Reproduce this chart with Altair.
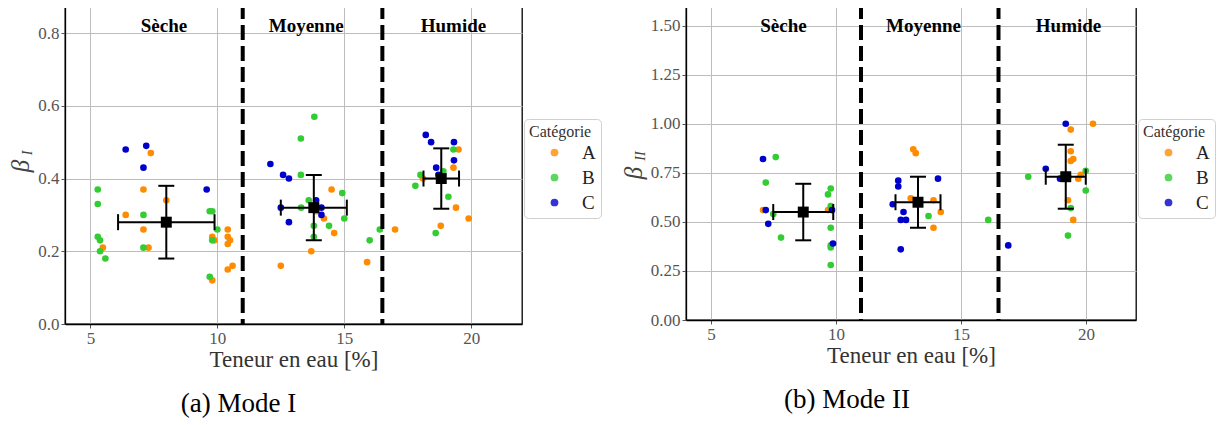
import altair as alt
import pandas as pd

FONT = "'Liberation Serif', 'DejaVu Serif', serif"
CATS = ["A", "B", "C"]
COLORS = ["#ff8c00", "#33cc33", "#0000cd"]

# ---- Panel (a) Mode I ----
a_A_x = [7.38, 7.09, 7.99, 6.39, 7.09, 7.29, 5.49, 9.8, 9.89, 9.8, 10.41, 10.41, 10.5, 10.41, 10.41, 10.6,
         12.5, 13.7, 13.9, 14.2, 14.5, 14.6, 15.9, 17.0, 18.1, 18.8, 19.4, 19.3, 19.5, 19.9]
a_A_y = [0.47, 0.37, 0.34, 0.30, 0.26, 0.21, 0.21, 0.24, 0.23, 0.12, 0.26, 0.24, 0.23, 0.22, 0.15, 0.16,
         0.16, 0.20, 0.31, 0.29, 0.37, 0.25, 0.17, 0.26, 0.40, 0.27, 0.32, 0.43, 0.48, 0.29]
a_B_x = [5.29, 5.29, 5.29, 5.38, 5.38, 5.59, 7.09, 7.09, 9.7, 9.8, 10.0, 9.8, 9.7,
         13.29, 13.82, 13.29, 13.6, 13.3, 13.8, 13.8, 14.4, 14.92, 15.0, 16.0, 16.4, 17.8, 18.0, 18.6, 18.9, 19.1, 19.3]
a_B_y = [0.37, 0.33, 0.24, 0.23, 0.20, 0.18, 0.30, 0.21, 0.31, 0.31, 0.26, 0.23, 0.13,
         0.51, 0.57, 0.41, 0.34, 0.32, 0.27, 0.24, 0.27, 0.36, 0.29, 0.23, 0.26, 0.38, 0.41, 0.25, 0.42, 0.35, 0.48]
a_C_x = [6.39, 7.2, 7.09, 9.58, 12.09, 12.59, 12.82, 12.5, 12.82, 13.89, 14.1, 14.1,
         18.21, 18.42, 19.32, 19.32, 18.62, 18.71]
a_C_y = [0.48, 0.49, 0.43, 0.37, 0.44, 0.41, 0.40, 0.32, 0.28, 0.34, 0.32, 0.30,
         0.52, 0.50, 0.50, 0.45, 0.43, 0.41]
a_mean_x = [7.99, 13.8, 18.82]
a_mean_y = [0.28, 0.32, 0.40]
a_xerr = [1.9, 1.3, 0.7]
a_yerr = [0.10, 0.09, 0.083]

# ---- Panel (b) Mode II ----
b_A_x = [7.08, 9.68, 13.09, 13.19, 12.99, 13.9, 14.19, 13.9, 20.28, 19.39, 19.39, 19.49, 19.39, 19.79, 19.69, 19.28, 19.49]
b_A_y = [0.56, 0.56, 0.87, 0.85, 0.62, 0.61, 0.55, 0.47, 1.00, 0.97, 0.86, 0.82, 0.81, 0.74, 0.72, 0.61, 0.51]
b_B_x = [7.59, 7.19, 7.49, 7.8, 9.79, 9.68, 9.79, 9.79, 9.79, 9.79, 9.79, 13.7, 16.09, 17.69, 19.99, 19.99, 19.39, 19.28, 19.3]
b_B_y = [0.83, 0.70, 0.54, 0.42, 0.67, 0.64, 0.58, 0.47, 0.38, 0.37, 0.28, 0.53, 0.51, 0.73, 0.76, 0.66, 0.57, 0.43, 0.73]
b_C_x = [7.08, 7.19, 7.29, 9.88, 9.84, 12.49, 12.49, 14.08, 12.27, 12.7, 12.59, 12.8, 12.59, 19.19, 18.39, 18.96, 16.89]
b_C_y = [0.82, 0.56, 0.49, 0.39, 0.56, 0.71, 0.68, 0.72, 0.59, 0.55, 0.51, 0.51, 0.36, 1.00, 0.77, 0.72, 0.38]
b_mean_x = [8.69, 13.28, 19.19]
b_mean_y = [0.55, 0.60, 0.73]
b_xerr = [1.2, 0.9, 0.8]
b_yerr = [0.144, 0.13, 0.163]

zone_bounds = [11.0, 16.5]
zone_names = ["Sèche", "Moyenne", "Humide"]
zone_x = [7.9, 13.5, 19.3]
x_ticks = [5, 10, 15, 20]
a_y_ticks = [0.0, 0.2, 0.4, 0.6, 0.8]
b_y_ticks = [0.0, 0.25, 0.5, 0.75, 1.0, 1.25, 1.5]


def points_df(ax, ay, bx, by, cx, cy):
    return pd.concat([
        pd.DataFrame({"x": ax, "y": ay, "cat": "A"}),
        pd.DataFrame({"x": bx, "y": by, "cat": "B"}),
        pd.DataFrame({"x": cx, "y": cy, "cat": "C"}),
    ], ignore_index=True)


def panel(pts, mx, my, xe, ye, ydom, yvals, yfmt, w, h, zone_y, beta, title, dx):
    xs = alt.Scale(domain=[4, 22], nice=False, zero=False)
    ys = alt.Scale(domain=ydom, nice=False)
    xax = alt.Axis(values=x_ticks, title="Teneur en eau [%]", format="d")
    yax = alt.Axis(values=yvals, format=yfmt, title=None)

    pl = alt.Chart(pts).mark_circle(size=44, opacity=1).encode(
        x=alt.X("x:Q", scale=xs, axis=xax),
        y=alt.Y("y:Q", scale=ys, axis=yax),
        color=alt.Color("cat:N", scale=alt.Scale(domain=CATS, range=COLORS),
                        legend=alt.Legend(title="Catégorie", orient="none", legendX=w + 2, legendY=115,
                                          strokeColor="#d0d0d0", fillColor="white", cornerRadius=4,
                                          padding=5, symbolType="circle", symbolSize=60,
                                          symbolOpacity=0.8, symbolOffset=16, labelOffset=18,
                                          rowPadding=5, titlePadding=3)),
    )
    md = pd.DataFrame({"x": mx, "y": my, "xe": xe, "ye": ye})
    mb = alt.Chart(md).transform_calculate(
        xlo="datum.x - datum.xe", xhi="datum.x + datum.xe",
        ylo="datum.y - datum.ye", yhi="datum.y + datum.ye")
    hbar = mb.mark_rule(color="black", strokeWidth=2).encode(
        x=alt.X("xlo:Q", scale=xs, axis=xax), x2="xhi:Q", y=alt.Y("y:Q", scale=ys, axis=yax))
    vbar = mb.mark_rule(color="black", strokeWidth=2).encode(
        x=alt.X("x:Q", scale=xs, axis=xax), y=alt.Y("ylo:Q", scale=ys, axis=yax), y2="yhi:Q")
    xcap = mb.transform_fold(["xlo", "xhi"], as_=["k", "v"]).mark_tick(
        orient="vertical", color="black", size=16, thickness=2, opacity=1).encode(
        x=alt.X("v:Q", scale=xs, axis=xax), y=alt.Y("y:Q", scale=ys, axis=yax))
    ycap = mb.transform_fold(["ylo", "yhi"], as_=["k", "v"]).mark_tick(
        orient="horizontal", color="black", size=16, thickness=2, opacity=1).encode(
        x=alt.X("x:Q", scale=xs, axis=xax), y=alt.Y("v:Q", scale=ys, axis=yax))
    sq = alt.Chart(md).mark_square(size=120, color="black", opacity=1).encode(
        x=alt.X("x:Q", scale=xs, axis=xax), y=alt.Y("y:Q", scale=ys, axis=yax))
    dash = alt.Chart(pd.DataFrame({"x": zone_bounds})).mark_rule(
        color="black", strokeWidth=4, strokeDash=[15, 6]).encode(x=alt.X("x:Q", scale=xs, axis=xax))
    zones = alt.Chart(pd.DataFrame({"x": zone_x, "name": zone_names, "y": [zone_y] * 3})).mark_text(
        font=FONT, fontSize=19, fontWeight="bold", color="black").encode(
        x=alt.X("x:Q", scale=xs, axis=xax), y=alt.Y("y:Q", scale=ys, axis=yax), text="name:N")
    one = alt.Data(values=[{"k": 1}])
    (bx, by, sub, sx, sy) = beta
    btxt = alt.Chart(one).mark_text(font=FONT, fontStyle="italic", fontSize=25, angle=270,
                                    color="#444").encode(
        x=alt.value(bx), y=alt.value(by), text=alt.value("β"))
    stxt = alt.Chart(one).mark_text(font=FONT, fontStyle="italic", fontSize=14, angle=270,
                                    color="#444").encode(
        x=alt.value(sx), y=alt.value(sy), text=alt.value(sub))
    return alt.layer(pl, hbar, vbar, xcap, ycap, sq, dash, zones, btxt, stxt).properties(
        width=w, height=h,
        title=alt.TitleParams(title, orient="bottom", fontSize=27, font=FONT, fontWeight="normal",
                              color="black", offset=20, dx=dx, anchor="middle", frame="group"))


pa = panel(points_df(a_A_x, a_A_y, a_B_x, a_B_y, a_C_x, a_C_y), a_mean_x, a_mean_y, a_xerr, a_yerr,
           [0, 0.88], a_y_ticks, ".1f", 457, 320, 0.82, (-44, 162, "I", -37, 149), "(a) Mode I", -55)
pb = panel(points_df(b_A_x, b_A_y, b_B_x, b_B_y, b_C_x, b_C_y), b_mean_x, b_mean_y, b_xerr, b_yerr,
           [0, 1.61], b_y_ticks, ".2f", 450, 316, 1.50, (-52, 169, "II", -45, 152), "(b) Mode II", -64)

chart = alt.hconcat(pa, pb, spacing=18).resolve_scale(
    color="independent", x="independent", y="independent").resolve_legend(color="independent").properties(
    padding={"left": 0, "top": -7, "right": 0, "bottom": 0}
).configure_view(stroke="black", strokeWidth=1.3).configure_axis(
    labelFont=FONT, titleFont=FONT, labelFontSize=17, titleFontSize=23, titleFontWeight="normal",
    labelColor="#555", titleColor="#333", gridColor="#bdbdbd", gridWidth=1,
    domainColor="black", domainWidth=1.3, tickColor="#555", tickSize=4, labelPadding=2, titlePadding=2
).configure_legend(
    titleFont=FONT, labelFont=FONT, titleFontSize=16, labelFontSize=19, titleFontWeight="normal",
    titleColor="#333", labelColor="#222"
)

chart.save("out.html", embed_options={"renderer": "svg", "actions": False})
